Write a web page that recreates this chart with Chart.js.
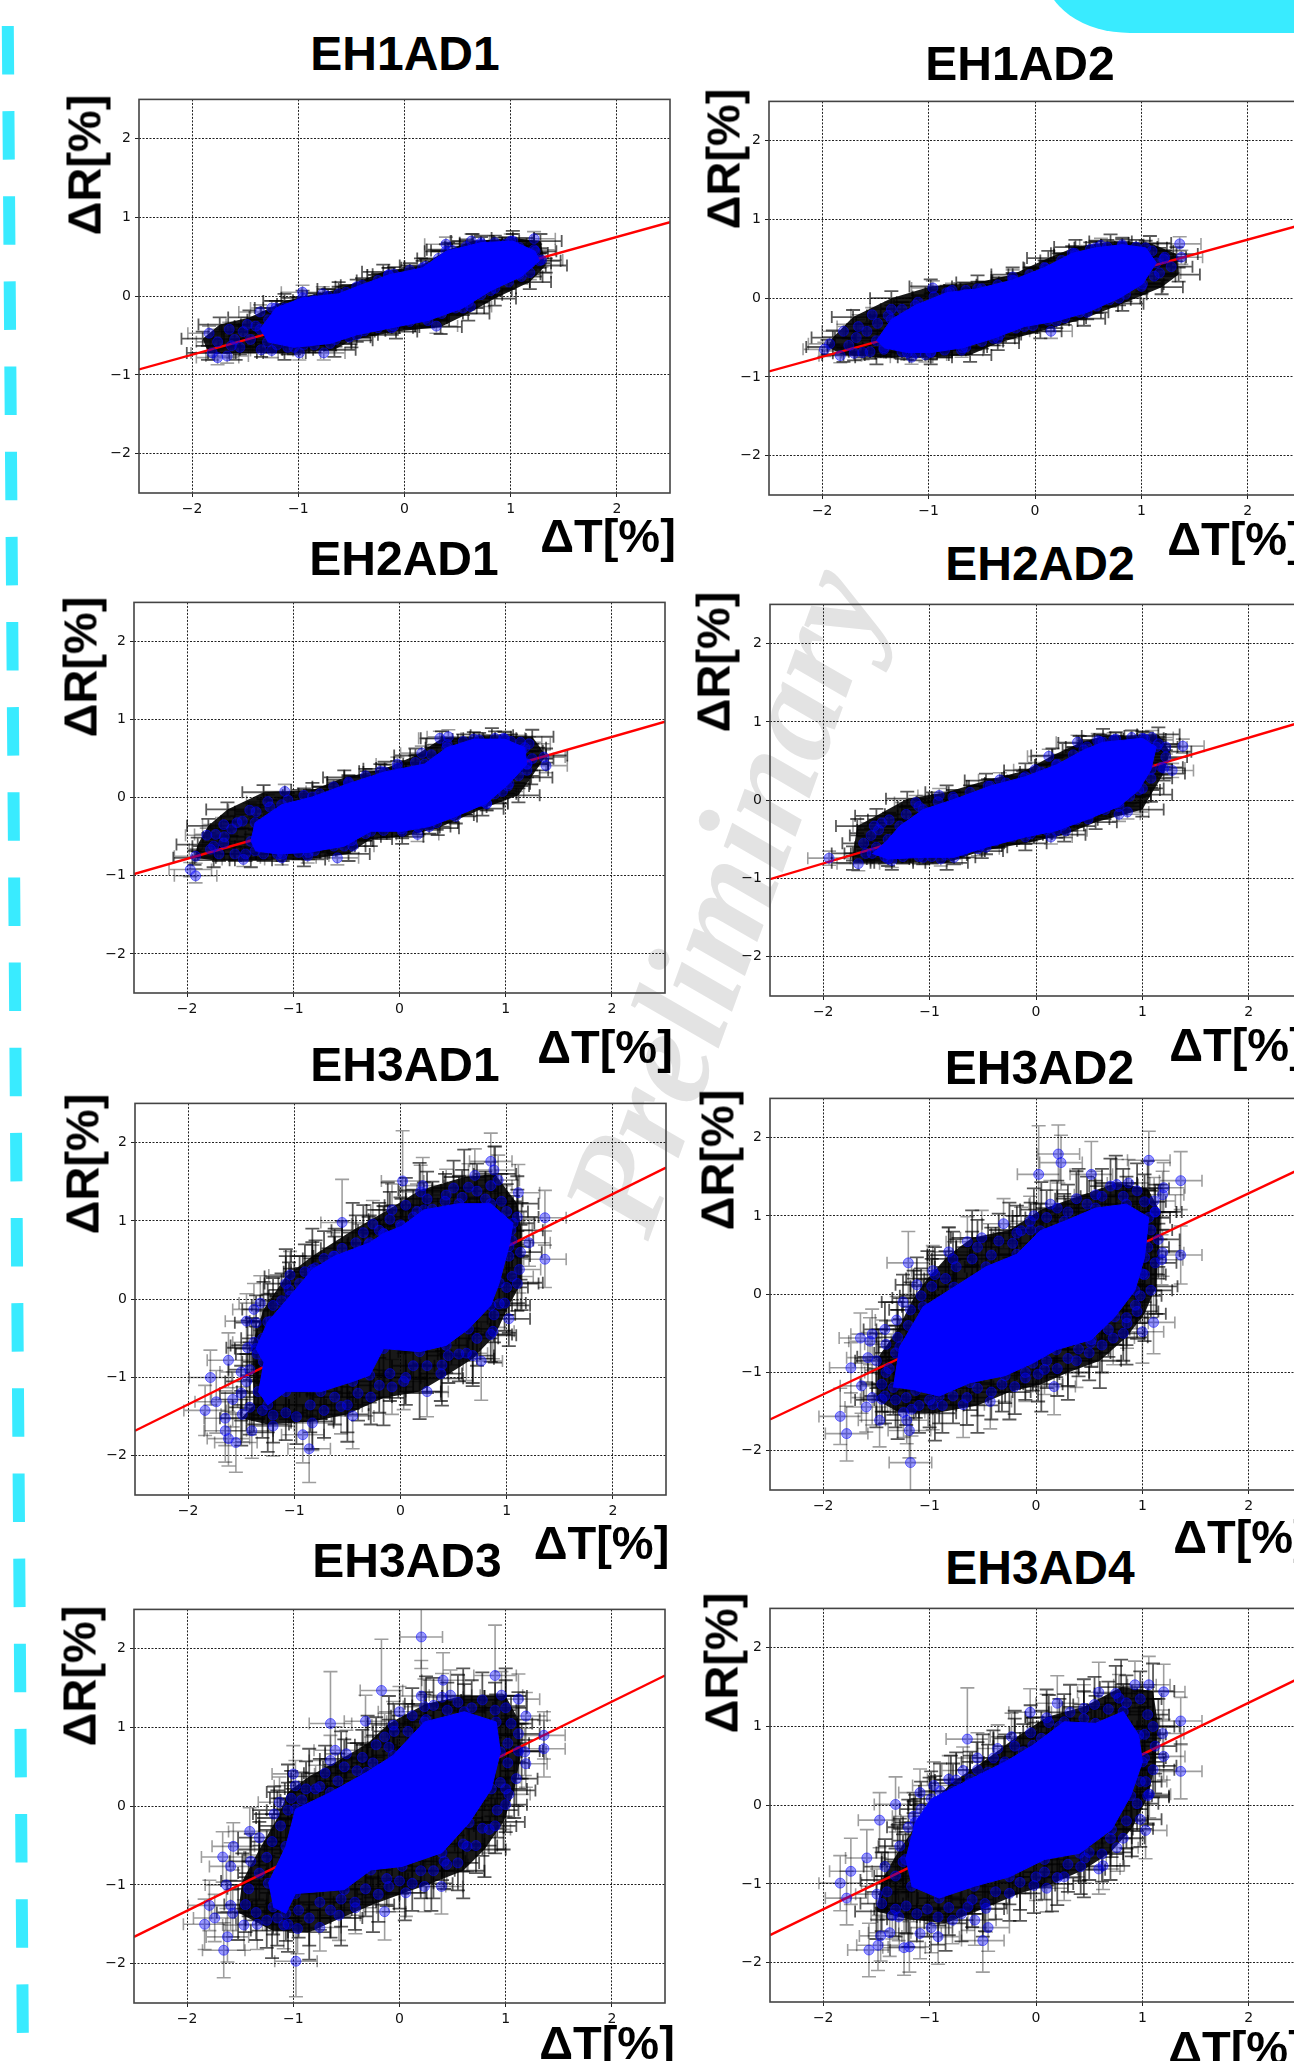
<!DOCTYPE html>
<html>
<head>
<meta charset="utf-8">
<title>EH AD delta R vs delta T</title>
<script src="https://cdn.jsdelivr.net/npm/chart.js@4/dist/chart.umd.min.js"></script>
<style>
html, body { margin: 0; padding: 0; background: #fff; }
#page { position: relative; width: 1294px; height: 2061px; overflow: hidden; }
#stripe { position: absolute; left: 0; top: 0; }
#corner { position: absolute; left: 1045px; top: -40px; width: 300px; height: 72.5px; background: #39ebff; border-bottom-left-radius: 85px 60px; }
#mark { position: absolute; left: 722px; top: 900px; transform: translate(-50%, -50%) rotate(-70deg); font: italic bold 140px "Liberation Serif", serif; color: #e3e3e3; white-space: nowrap; }
canvas { position: absolute; }
.lbl { position: absolute; font: bold 47px/1 "Liberation Sans", sans-serif; color: #000; white-space: nowrap; transform: translate(-50%, -50%); }
.ttl { font-size: 48px; margin-top: 1px; }
.rot { transform: translate(-50%, -50%) rotate(-90deg); }
</style>
</head>
<body>
<div id="page">
  <svg id="stripe" width="40" height="2061"><line x1="7.6" y1="0" x2="23" y2="2061" stroke="#39ebff" stroke-width="12" stroke-dasharray="48.5 36.65" stroke-dashoffset="59.2"/></svg>
  <div id="corner"></div>
  <div id="mark">Preliminary</div>
</div>
<script>
var tickValues = [-2, -1, 0, 1, 2];
var fitX = [-2.5, 2.5];

/* EH1AD1 */
var eh1ad1Fit = [-0.93, 0.94];
var eh1ad1CoreX = [-1.36,-1.21,-0.96,-0.62,-0.45,-0.15,0.17,0.39,0.72,1.02,1.23,1.27,1.1,0.81,0.55,0.22,-0.12,-0.45,-0.7,-1.04,-1.29];
var eh1ad1CoreY = [-0.42,-0.15,-0.02,0.03,0.12,0.27,0.36,0.57,0.68,0.7,0.57,0.45,0.25,0.07,-0.15,-0.31,-0.4,-0.49,-0.6,-0.65,-0.58];
var eh1ad1EnvX = [-1.9,-1.74,-1.46,-1.13,-0.62,-0.2,0.155,0.41,0.64,1.02,1.28,1.33,1.18,0.85,0.6,0.34,-0.08,-0.5,-0.66,-1.13,-1.59,-1.85];
var eh1ad1EnvY = [-0.54,-0.36,-0.27,-0.06,0.09,0.31,0.39,0.59,0.7,0.74,0.7,0.39,0.18,-0.03,-0.22,-0.39,-0.45,-0.56,-0.68,-0.72,-0.72,-0.72];
var eh1ad1PtX = [0.39,0.63,1.0,1.22,1.22,1.29,1.18,0.62,0.3,-0.15,-0.96,-0.77,-1.25,-1.36,-1.65,-1.84,-1.76,-1.81,-1.76,-1.67,-1.63,-1.25,-0.99,-0.76,-1.48,-1.13];
var eh1ad1PtY = [0.66,0.7,0.7,0.73,0.59,0.46,0.3,-0.13,-0.38,0.27,0.05,0.03,-0.15,-0.2,-0.42,-0.47,-0.58,-0.72,-0.78,-0.76,-0.63,-0.69,-0.72,-0.72,-0.36,-0.15];
var eh1ad1Hatch = [[-1.6,-0.55],[-1.52,-0.45],[-1.55,-0.65],[-1.45,-0.55],[-1.4,-0.38],[-1.35,-0.68],[-1.28,-0.3],[-1.2,-0.62],[-1.15,-0.2],[-1.1,-0.65],[-1.0,-0.1],[-0.95,-0.62],[-0.85,-0.05],[-0.85,-0.62],[-0.72,0],[-0.65,-0.55],[-0.55,0.05],[-0.52,-0.52],[-0.4,0.14],[-0.38,-0.44],[-0.25,0.2],[-0.25,-0.4],[-0.1,0.28],[-0.1,-0.38],[0.05,0.33],[0.05,-0.32],[0.2,0.38],[0.2,-0.28],[0.32,0.48],[0.35,-0.22],[0.45,0.58],[0.48,-0.15],[0.58,0.63],[0.6,-0.08],[0.72,0.66],[0.72,0.02],[0.85,0.68],[0.85,0.1],[0.95,0.66],[0.98,0.18],[1.08,0.62],[1.08,0.28],[1.15,0.55],[1.18,0.42]];

/* EH1AD2 */
var eh1ad2Fit = [-0.93, 0.93];
var eh1ad2CoreX = [-1.49,-1.35,-1.125,-0.83,-0.54,-0.21,0.09,0.35,0.57,0.82,1.04,1.14,1.01,0.79,0.49,0.2,-0.1,-0.39,-0.68,-0.98,-1.2,-1.42];
var eh1ad2CoreY = [-0.54,-0.27,-0.09,0.07,0.12,0.23,0.39,0.57,0.64,0.68,0.64,0.45,0.18,0,-0.18,-0.29,-0.36,-0.51,-0.63,-0.69,-0.69,-0.63];
var eh1ad2EnvX = [-1.95,-1.9,-1.71,-1.35,-0.98,-0.54,-0.21,0.125,0.38,0.71,1.08,1.33,1.35,1.19,0.82,0.46,0.05,-0.35,-0.61,-0.98,-1.49,-1.8];
var eh1ad2EnvY = [-0.62,-0.5,-0.24,0,0.15,0.2,0.3,0.51,0.65,0.72,0.7,0.56,0.3,0.14,-0.07,-0.26,-0.42,-0.57,-0.72,-0.75,-0.75,-0.72];
var eh1ad2PtX = [-0.96,-0.78,-1.53,-1.35,-1.66,-1.8,-1.93,-1.98,-1.83,-1.62,-1.16,-1.03,-0.69,-0.35,0.15,0.62,0.375,1.36,1.375,1.21,1.17,-0.21,-0.65];
var eh1ad2PtY = [0.13,0.1,-0.21,-0.14,-0.36,-0.42,-0.58,-0.65,-0.73,-0.69,-0.75,-0.72,-0.66,-0.51,-0.42,0.67,0.57,0.69,0.52,0.5,0.32,0.27,0.05];
var eh1ad2Hatch = [[-1.75,-0.6],[-1.68,-0.5],[-1.7,-0.7],[-1.58,-0.42],[-1.55,-0.68],[-1.48,-0.32],[-1.42,-0.65],[-1.38,-0.22],[-1.25,-0.68],[-1.25,-0.14],[-1.12,-0.7],[-1.1,-0.05],[-0.98,-0.68],[-0.95,0.02],[-0.85,-0.66],[-0.8,0.08],[-0.65,0.1],[-0.65,-0.62],[-0.5,0.12],[-0.5,-0.55],[-0.35,0.17],[-0.33,-0.46],[-0.2,0.22],[-0.18,-0.38],[-0.05,0.3],[-0.02,-0.35],[0.1,0.38],[0.12,-0.28],[0.25,0.48],[0.28,-0.25],[0.38,0.55],[0.42,-0.18],[0.52,0.62],[0.58,-0.1],[0.68,0.65],[0.7,-0.02],[0.82,0.66],[0.85,0.05],[0.95,0.65],[1.0,0.15],[1.1,0.6],[1.12,0.28],[1.22,0.52],[1.28,0.4]];

/* EH2AD1 */
var eh2ad1Fit = [-0.977, 0.973];
var eh2ad1CoreX = [-1.4,-1.36,-1.11,-0.82,-0.48,-0.14,0.235,0.445,0.7,0.99,1.18,1.2,1.03,0.82,0.53,0.28,0.025,-0.27,-0.52,-0.86,-1.15,-1.36];
var eh2ad1CoreY = [-0.56,-0.32,-0.09,0.01,0.18,0.33,0.43,0.64,0.75,0.75,0.64,0.43,0.18,-0.07,-0.24,-0.37,-0.43,-0.43,-0.62,-0.7,-0.72,-0.68];
var eh2ad1EnvX = [-1.93,-1.9,-1.8,-1.62,-1.28,-0.82,-0.52,-0.14,0.15,0.4,0.87,1.25,1.38,1.24,1.12,0.78,0.36,0.025,-0.27,-0.48,-0.9,-1.4,-1.75];
var eh2ad1EnvY = [-0.77,-0.6,-0.36,-0.15,0.07,0.1,0.26,0.37,0.54,0.76,0.8,0.78,0.54,0.26,0.03,-0.14,-0.39,-0.5,-0.53,-0.72,-0.79,-0.8,-0.8];
var eh2ad1PtX = [-1.08,-1.24,-1.41,-1.655,-1.815,-1.73,-1.53,-1.92,-1.97,-1.92,-1.78,-1.655,-1.47,-1.11,-0.865,-0.585,-0.44,0.17,0.82,0.97,-0.02,0.21,0.38,0.46,0.98,1.14,1.22,1.38,1.36,1.2];
var eh2ad1PtY = [0.08,-0.05,-0.16,-0.345,-0.48,-0.47,-0.32,-0.75,-0.92,-1.0,-0.66,-0.58,-0.79,-0.77,-0.745,-0.77,-0.62,-0.47,-0.08,0.08,0.43,0.57,0.76,0.78,0.76,0.71,0.69,0.41,0.52,0.43];
var eh2ad1Hatch = [[-1.75,-0.62],[-1.65,-0.5],[-1.7,-0.72],[-1.58,-0.4],[-1.55,-0.72],[-1.48,-0.3],[-1.45,-0.72],[-1.35,-0.18],[-1.28,-0.72],[-1.22,-0.12],[-1.1,-0.72],[-1.05,-0.03],[-0.95,-0.7],[-0.9,0.03],[-0.8,-0.68],[-0.75,0.05],[-0.62,0.14],[-0.62,-0.62],[-0.48,0.2],[-0.45,-0.55],[-0.32,0.28],[-0.32,-0.46],[-0.18,0.34],[-0.15,-0.42],[-0.02,0.38],[0.02,-0.4],[0.15,0.45],[0.18,-0.38],[0.3,0.55],[0.35,-0.32],[0.45,0.68],[0.5,-0.22],[0.6,0.72],[0.62,-0.12],[0.75,0.74],[0.78,-0.05],[0.9,0.76],[0.9,0.05],[1.05,0.72],[1.02,0.15],[1.15,0.6],[1.12,0.28],[1.25,0.5],[1.2,0.35]];

/* EH2AD2 */
var eh2ad2Fit = [-1.008, 1.0];
var eh2ad2CoreX = [-1.39,-1.28,-1.06,-0.77,-0.43,-0.1,0.19,0.45,0.63,1.0,1.13,1.08,0.965,0.78,0.49,0.19,-0.1,-0.47,-0.77,-1.06,-1.39,-1.54];
var eh2ad2CoreY = [-0.5,-0.33,-0.12,0.01,0.18,0.3,0.45,0.64,0.74,0.79,0.68,0.39,0.13,-0.08,-0.24,-0.39,-0.47,-0.6,-0.73,-0.73,-0.75,-0.68];
var eh2ad2EnvX = [-1.72,-1.68,-1.5,-1.21,-0.84,-0.47,-0.1,0.155,0.41,0.63,1.15,1.26,1.2,1.08,1.0,0.56,0.265,-0.1,-0.51,-0.84,-1.355,-1.72];
var eh2ad2EnvY = [-0.68,-0.33,-0.2,0.02,0.1,0.25,0.38,0.57,0.73,0.82,0.84,0.62,0.34,0.07,-0.12,-0.28,-0.44,-0.55,-0.65,-0.8,-0.8,-0.8];
var eh2ad2PtX = [-1.945,-1.67,-1.45,-1.52,-1.13,-0.91,-0.34,-0.01,0.12,0.39,0.58,0.73,1.09,1.22,1.38,1.28,1.2,0.78,0.86,0.28,0.14,-0.545,-0.895,-1.355];
var eh2ad2PtY = [-0.74,-0.81,-0.29,-0.33,-0.03,0.06,0.26,0.39,0.56,0.74,0.76,0.77,0.8,0.68,0.69,0.38,0.41,-0.18,-0.15,-0.39,-0.47,-0.62,-0.75,-0.77];
var eh2ad2Hatch = [[-1.6,-0.68],[-1.55,-0.45],[-1.62,-0.55],[-1.5,-0.6],[-1.48,-0.38],[-1.42,-0.72],[-1.38,-0.25],[-1.25,-0.72],[-1.22,-0.18],[-1.1,-0.72],[-1.1,-0.08],[-0.98,-0.72],[-0.92,-0.02],[-0.85,-0.7],[-0.78,0.04],[-0.68,-0.65],[-0.62,0.1],[-0.52,-0.58],[-0.45,0.18],[-0.38,-0.52],[-0.28,0.22],[-0.22,-0.47],[-0.12,0.28],[-0.05,-0.43],[0.05,0.36],[0.1,-0.38],[0.2,0.46],[0.25,-0.32],[0.35,0.58],[0.38,-0.25],[0.48,0.68],[0.5,-0.18],[0.6,0.75],[0.65,-0.12],[0.75,0.78],[0.78,-0.03],[0.9,0.8],[0.88,0.05],[1.02,0.78],[1.0,0.15],[1.15,0.72],[1.08,0.28],[1.22,0.55],[1.18,0.42]];

/* EH3AD1 */
var eh3ad1Fit = [-1.68, 1.68];
var eh3ad1CoreX = [-1.29,-1.36,-1.25,-1.04,-0.83,-0.62,-0.29,-0.16,0.01,0.22,0.55,0.85,1.06,1.02,0.93,0.85,0.64,0.43,0.18,-0.16,-0.29,-0.45,-0.75,-1.08,-1.25,-1.34];
var eh3ad1CoreY = [-0.8,-0.63,-0.29,0.04,0.38,0.55,0.72,0.84,0.93,1.14,1.22,1.22,0.97,0.67,0.21,-0.08,-0.38,-0.59,-0.67,-0.63,-0.97,-1.05,-1.18,-1.18,-1.35,-1.18];
var eh3ad1EnvX = [-1.38,-1.4,-1.29,-1.08,-0.83,-0.45,-0.12,0.18,0.6,0.89,1.1,1.14,1.14,1.02,0.89,0.68,0.39,0.18,-0.16,-0.5,-0.83,-1.25,-1.5];
var eh3ad1EnvY = [-1.35,-0.59,-0.13,0.29,0.55,0.88,1.14,1.39,1.56,1.6,1.22,0.88,0.21,-0.08,-0.46,-0.76,-1.01,-1.18,-1.26,-1.47,-1.56,-1.6,-1.52];
var eh3ad1PtX = [0.02,0.21,0.19,0.85,0.88,0.7,0.92,0.85,1.11,1.36,1.36,1.21,1.12,1.04,1.05,0.93,0.87,0.76,0.62,0.39,0.25,0.03,-0.08,-0.45,-0.56,-0.83,-0.92,-0.86,-1.2,-1.4,-1.55,-1.62,-1.65,-1.65,-1.49,-1.84,-1.735,-1.58,-1.79,-1.62,-1.5,-1.38,-1.45,-1.38,-1.32,-1.04,-0.83,-0.63,-0.55,-0.26,-0.15,-0.08,0.155,0.43,0.64];
var eh3ad1PtY = [1.51,1.45,1.37,1.76,1.65,1.58,1.52,1.45,1.36,1.04,0.51,0.72,0.38,0.88,0.29,-0.06,-0.41,-0.79,-0.69,-0.84,-1.18,-1.05,-1.12,-1.49,-1.37,-1.58,-1.73,-1.91,-1.62,-1.68,-1.83,-1.78,-1.68,-1.52,-1.47,-1.42,-1.31,-1.28,-1.0,-0.78,-0.93,-0.55,-0.28,-0.13,-0.05,0.31,0.34,0.55,0.98,0.96,0.83,1.14,1.12,1.33,1.43];
var eh3ad1PtEy = [0.64,0.36,0.34,0.36,0.3,0.34,0.32,0.3,0.36,0.35,0.36,0.3,0.3,0.3,0.3,0.3,0.35,0.5,0.35,0.35,0.32,0.36,0.35,0.42,0.35,0.35,0.36,0.43,0.38,0.35,0.38,0.35,0.4,0.35,0.35,0.32,0.4,0.35,0.35,0.35,0.35,0.3,0.35,0.33,0.35,0.3,0.35,0.3,0.55,0.3,0.35,0.33,0.35,0.33,0.3];
var eh3ad1Hatch = [[-1.42,-0.9],[-1.35,-0.7],[-1.44,-0.62],[-1.3,-0.5],[-1.36,-0.3],[-1.22,-0.28],[-1.2,-0.08],[-1.12,-0.02],[-1.05,0.12],[-1.08,0.2],[-0.95,0.2],[-0.9,0.35],[-0.8,0.4],[-0.72,0.52],[-0.62,0.45],[-0.55,0.65],[-0.42,0.72],[-0.35,0.85],[-0.3,0.7],[-0.2,0.88],[-0.1,1.02],[0,0.95],[0.05,1.2],[0.12,1.05],[0.25,1.28],[0.3,1.15],[0.42,1.25],[0.5,1.42],[0.58,1.3],[0.72,1.38],[0.8,1.28],[0.95,1.25],[1.0,1.12],[1.1,1.05],[1.05,0.75],[1.13,0.6],[1.02,0.55],[1.1,0.2],[1.0,0.15],[0.98,-0.05],[1.02,-0.25],[0.88,-0.2],[0.85,-0.45],[0.72,-0.5],[0.68,-0.72],[0.55,-0.7],[0.45,-0.72],[0.38,-0.95],[0.25,-0.85],[0.12,-0.85],[0.05,-1.0],[-0.1,-0.95],[-0.2,-1.1],[-0.28,-1.25],[-0.4,-1.2],[-0.5,-1.35],[-0.62,-1.25],[-0.72,-1.42],[-0.85,-1.35],[-0.98,-1.5],[-1.08,-1.45],[-1.2,-1.48],[-1.3,-1.42],[-1.42,-1.38],[-1.5,-1.2],[-1.45,-1.05]];

/* EH3AD2 */
var eh3ad2Fit = [-1.6, 1.61];
var eh3ad2CoreX = [-1.34,-1.28,-1.06,-0.77,-0.47,-0.18,0.04,0.265,0.56,0.85,1.06,1.02,0.93,0.74,0.52,0.19,-0.03,-0.29,-0.62,-0.91,-1.13];
var eh3ad2CoreY = [-1.19,-0.67,-0.16,0.09,0.35,0.51,0.81,0.93,1.1,1.15,0.98,0.47,0.05,-0.29,-0.58,-0.71,-0.88,-1.04,-1.13,-1.3,-1.23];
var eh3ad2EnvX = [-1.5,-1.48,-1.3,-1.15,-1.02,-0.82,-0.6,-0.25,0.05,0.4,0.75,1.05,1.17,1.15,1.13,1.02,0.85,0.6,0.3,0.05,-0.25,-0.55,-0.95,-1.3];
var eh3ad2EnvY = [-1.35,-0.8,-0.45,-0.05,0.2,0.5,0.72,0.82,1.08,1.25,1.42,1.35,1.05,0.55,0.1,-0.25,-0.55,-0.85,-1.0,-1.15,-1.25,-1.42,-1.52,-1.5];
var eh3ad2PtX = [0.21,0.235,0.025,0.52,0.76,0.87,1.06,1.2,1.19,1.36,1.11,1.12,1.36,1.18,1.19,1.0,0.935,1.105,1.0,0.855,0.725,0.515,0.38,0.08,0.17,-0.1,-0.43,-0.685,-0.97,-1.17,-1.245,-1.215,-1.19,-1.18,-1.47,-1.595,-1.84,-1.78,-1.54,-1.45,-1.64,-1.74,-1.41,-1.58,-1.41,-1.56,-1.65,-1.54,-1.31,-1.2,-0.97,-0.82,-0.645,-0.51,-0.305,-0.14,-0.055,0.135,0.56];
var eh3ad2PtY = [1.79,1.68,1.53,1.53,1.4,1.42,1.71,1.36,1.27,1.45,1.19,1.05,0.5,0.44,0.53,0.26,-0.14,-0.36,-0.48,-0.37,-0.56,-0.62,-0.85,-0.96,-1.18,-1.07,-1.37,-1.41,-1.41,-1.47,-1.51,-1.61,-1.74,-2.15,-1.61,-1.44,-1.56,-1.78,-1.32,-1.34,-1.17,-0.94,-1.0,-0.81,-0.64,-0.6,-0.56,-0.51,-0.33,0.4,0.3,0.54,0.67,0.72,0.9,0.81,0.93,1.15,1.27];
var eh3ad2PtEy = [0.37,0.35,0.62,0.42,0.32,0.3,0.37,0.32,0.3,0.37,0.3,0.3,0.37,0.32,0.3,0.32,0.3,0.4,0.4,0.32,0.34,0.3,0.34,0.32,0.36,0.3,0.35,0.42,0.32,0.34,0.32,0.3,0.35,0.55,0.34,0.32,0.36,0.35,0.35,0.32,0.35,0.32,0.32,0.32,0.3,0.3,0.32,0.32,0.3,0.4,0.32,0.32,0.32,0.35,0.32,0.3,0.32,0.3,0.3];
var eh3ad2Hatch = [[-1.45,-1.15],[-1.38,-0.95],[-1.5,-0.85],[-1.32,-0.75],[-1.3,-0.55],[-1.42,-0.45],[-1.2,-0.4],[-1.18,-0.2],[-1.25,-0.1],[-1.08,-0.02],[-1.12,0.12],[-0.98,0.1],[-0.95,0.25],[-0.85,0.2],[-0.75,0.35],[-0.78,0.45],[-0.6,0.45],[-0.55,0.6],[-0.42,0.5],[-0.35,0.68],[-0.22,0.65],[-0.18,0.78],[-0.05,0.82],[-0.02,1.0],[0.1,0.98],[0.2,1.1],[0.3,1.05],[0.38,1.22],[0.48,1.15],[0.62,1.25],[0.7,1.38],[0.82,1.25],[0.95,1.32],[1.02,1.18],[1.12,1.05],[1.08,0.82],[1.15,0.7],[1.05,0.6],[1.12,0.4],[1.02,0.25],[1.08,0.05],[0.98,-0.02],[0.95,-0.22],[0.85,-0.3],[0.82,-0.5],[0.68,-0.45],[0.62,-0.65],[0.5,-0.75],[0.4,-0.7],[0.3,-0.82],[0.2,-0.95],[0.1,-0.85],[0.02,-1.02],[-0.1,-1.0],[-0.2,-1.18],[-0.32,-1.15],[-0.42,-1.25],[-0.55,-1.2],[-0.65,-1.32],[-0.78,-1.3],[-0.88,-1.42],[-1.0,-1.35],[-1.1,-1.42],[-1.22,-1.32],[-1.32,-1.35],[-1.42,-1.3]];

/* EH3AD3 */
var eh3ad3Fit = [-1.66, 1.66];
var eh3ad3CoreX = [-1.235,-1.07,-0.98,-0.65,-0.31,-0.06,0.235,0.61,0.91,0.95,0.865,0.655,0.4,0.025,-0.27,-0.52,-0.98,-1.07,-1.19];
var eh3ad3CoreY = [-0.98,-0.51,-0.04,0.175,0.43,0.645,1.07,1.2,1.07,0.69,0.22,-0.21,-0.59,-0.765,-0.81,-1.06,-1.11,-1.36,-1.28];
var eh3ad3EnvX = [-1.52,-1.48,-1.32,-1.15,-1.05,-0.85,-0.55,-0.3,-0.1,0.25,0.6,1.0,1.12,1.15,1.08,0.98,0.8,0.6,0.3,0.05,-0.25,-0.55,-0.85,-1.2];
var eh3ad3EnvY = [-1.35,-0.95,-0.55,-0.15,0.18,0.38,0.6,0.8,1.05,1.3,1.4,1.4,1.1,0.7,0.2,-0.2,-0.55,-0.82,-0.98,-1.1,-1.25,-1.42,-1.6,-1.58];
var eh3ad3PtX = [0.205,0.41,0.9,-0.17,0.205,0.48,0.4,0.96,1.12,0.235,0,-0.32,-0.65,-0.06,1.19,1.36,1.36,1.18,1.19,1.03,0.95,0.845,0.635,0.445,0.395,0.235,0.06,-0.1,-0.14,-0.415,-0.57,-0.75,-0.975,-0.96,-1.09,-1.34,-1.465,-1.62,-1.655,-1.835,-1.74,-1.79,-1.59,-1.57,-1.63,-1.665,-1.565,-1.59,-1.41,-1.13,-1.0,-0.98,-0.79,-0.65,-0.605,-0.5,-0.14];
var eh3ad3PtY = [2.15,1.6,1.66,1.47,1.4,1.41,1.385,1.41,1.36,1.265,1.2,1.08,1.05,1.03,1.145,0.9,0.73,0.69,0.54,0.15,0.3,-0.295,-0.51,-0.74,-1.02,-1.02,-1.1,-1.02,-1.34,-1.29,-1.385,-1.54,-1.97,-1.555,-1.51,-1.5,-1.51,-1.66,-1.83,-1.5,-1.42,-1.26,-1.26,-1.36,-1.0,-0.645,-0.51,-0.765,-0.32,0.05,0.41,0.26,0.22,0.58,0.71,0.665,0.88];
var eh3ad3PtEy = [0.4,0.35,0.64,0.65,0.45,0.32,0.3,0.3,0.32,0.35,0.32,0.33,0.66,0.3,0.3,0.3,0.36,0.3,0.3,0.3,0.3,0.3,0.32,0.32,0.35,0.32,0.3,0.32,0.36,0.33,0.32,0.3,0.45,0.32,0.3,0.32,0.32,0.32,0.35,0.32,0.3,0.32,0.32,0.3,0.3,0.32,0.3,0.3,0.3,0.32,0.36,0.32,0.3,0.32,0.3,0.3,0.3];
var eh3ad3Hatch = [[-1.42,-1.05],[-1.32,-0.85],[-1.4,-0.7],[-1.25,-0.65],[-1.2,-0.45],[-1.32,-0.4],[-1.12,-0.25],[-1.18,-0.1],[-1.05,-0.05],[-1.02,0.1],[-0.92,0.08],[-0.88,0.22],[-0.75,0.25],[-0.7,0.42],[-0.58,0.32],[-0.52,0.5],[-0.4,0.45],[-0.35,0.62],[-0.25,0.55],[-0.22,0.78],[-0.1,0.75],[-0.05,0.95],[0.08,0.95],[0.12,1.15],[0.25,1.1],[0.32,1.28],[0.45,1.22],[0.55,1.32],[0.68,1.25],[0.78,1.35],[0.9,1.22],[1.0,1.25],[1.05,1.05],[1.12,0.92],[1.02,0.8],[1.12,0.7],[1.02,0.55],[1.1,0.35],[1.0,0.22],[1.0,0.02],[0.92,-0.05],[0.9,-0.25],[0.78,-0.28],[0.72,-0.5],[0.6,-0.48],[0.55,-0.72],[0.42,-0.7],[0.32,-0.82],[0.2,-0.82],[0.12,-0.98],[0,-0.95],[-0.12,-0.92],[-0.2,-1.12],[-0.32,-1.05],[-0.42,-1.22],[-0.55,-1.18],[-0.65,-1.32],[-0.75,-1.22],[-0.85,-1.42],[-0.95,-1.32],[-1.05,-1.5],[-1.15,-1.42],[-1.25,-1.45],[-1.35,-1.35],[-1.45,-1.25]];

/* EH3AD4 */
var eh3ad4Fit = [-1.65, 1.63];
var eh3ad4CoreX = [-1.225,-1.135,-0.985,-0.62,-0.29,-0.03,0.265,0.56,0.82,0.965,1.0,0.89,0.71,0.41,0.08,-0.25,-0.58,-0.91,-1.17];
var eh3ad4CoreY = [-0.69,-0.22,0.08,0.33,0.55,0.76,1.06,1.04,1.19,0.89,0.55,0.12,-0.31,-0.61,-0.69,-0.91,-1.03,-1.18,-1.03];
var eh3ad4EnvX = [-1.5,-1.45,-1.3,-1.15,-1.0,-0.8,-0.5,-0.2,0.1,0.45,0.8,1.1,1.15,1.12,1.05,0.9,0.7,0.45,0.15,-0.15,-0.5,-0.85,-1.2];
var eh3ad4EnvY = [-1.35,-0.95,-0.6,-0.3,0,0.28,0.55,0.85,1.12,1.25,1.5,1.45,1.0,0.5,0.1,-0.3,-0.6,-0.82,-1.0,-1.12,-1.32,-1.5,-1.45];
var eh3ad4PtX = [-0.645,-1.32,-1.47,-1.59,-1.74,-1.84,-1.78,-1.495,-1.57,-1.485,-1.46,-1.375,-1.24,-1.19,-1.35,-1.29,-1.09,-0.92,-0.985,-0.785,-0.575,-0.5,-0.45,-0.47,-0.64,0.1,0,0.265,0.46,0.59,0.63,0.76,1.03,1.065,1.03,1.36,1.2,1.36,1.2,1.19,1.06,0.93,0.59,0.78,0.2,-0.055,0.45,0.1,-0.23,-0.36,-0.55,-0.685,-0.82,-0.96,-1.09,-1.15];
var eh3ad4PtY = [0.84,0.01,-0.19,-0.67,-0.84,-0.99,-1.18,-1.13,-1.84,-1.78,-1.66,-1.62,-1.81,-1.8,-1.4,-1.42,-1.63,-1.67,-1.555,-1.46,-1.46,-1.72,-1.555,-1.31,-1.29,-1.055,-0.91,-0.91,-0.67,-0.81,-0.77,-0.54,-0.32,0.14,0.3,0.43,0.62,1.07,1.44,0.91,1.53,1.53,1.435,1.36,1.295,1.18,1.23,1.11,0.87,0.72,0.6,0.44,0.33,0.25,0.16,-0.14];
var eh3ad4PtEy = [0.65,0.35,0.35,0.36,0.42,0.35,0.34,0.32,0.34,0.32,0.32,0.3,0.35,0.32,0.3,0.3,0.32,0.35,0.32,0.3,0.32,0.4,0.3,0.3,0.3,0.3,0.3,0.3,0.32,0.32,0.3,0.3,0.36,0.3,0.3,0.35,0.3,0.3,0.35,0.3,0.36,0.3,0.38,0.3,0.35,0.3,0.3,0.3,0.3,0.3,0.32,0.3,0.3,0.3,0.3,0.3];
var eh3ad4Hatch = [[-1.4,-1.1],[-1.32,-0.9],[-1.42,-0.78],[-1.25,-0.72],[-1.28,-0.52],[-1.15,-0.45],[-1.2,-0.28],[-1.05,-0.22],[-1.08,-0.05],[-0.95,0.02],[-0.9,0.18],[-0.78,0.18],[-0.75,0.32],[-0.62,0.28],[-0.55,0.45],[-0.45,0.42],[-0.4,0.6],[-0.3,0.52],[-0.2,0.75],[-0.12,0.68],[-0.05,0.92],[0.05,0.85],[0.12,1.05],[0.22,1.0],[0.32,1.18],[0.45,1.1],[0.55,1.28],[0.68,1.22],[0.75,1.42],[0.85,1.3],[0.98,1.35],[1.05,1.15],[1.1,1.0],[1.02,0.9],[1.12,0.75],[1.02,0.6],[1.1,0.45],[0.98,0.3],[1.05,0.12],[0.95,0.02],[0.98,-0.18],[0.85,-0.2],[0.82,-0.42],[0.7,-0.42],[0.62,-0.62],[0.5,-0.6],[0.42,-0.78],[0.3,-0.75],[0.2,-0.92],[0.08,-0.85],[-0.02,-1.02],[-0.15,-0.98],[-0.25,-1.12],[-0.38,-1.1],[-0.48,-1.25],[-0.6,-1.2],[-0.7,-1.38],[-0.82,-1.3],[-0.92,-1.42],[-1.02,-1.32],[-1.12,-1.38],[-1.22,-1.28],[-1.32,-1.32],[-1.45,-1.25]];

// rect = plot area in page pixels, title / dR / dT = label centres
var panels = [
  { name: "EH1AD1", rect: [139.3, 96.8, 670.5, 492.9], title: [405, 53], dR: [84, 165], dT: [608, 535], fit: eh1ad1Fit, coreX: eh1ad1CoreX, coreY: eh1ad1CoreY, envX: eh1ad1EnvX, envY: eh1ad1EnvY, ptX: eh1ad1PtX, ptY: eh1ad1PtY, ptEy: 0.09, coreEy: 0.09, hatch: eh1ad1Hatch, ex: 0.2 },
  { name: "EH1AD2", rect: [768.6, 98.6, 1301, 494.6], title: [1020, 62.5], dR: [723, 159], dT: [1235, 538], fit: eh1ad2Fit, coreX: eh1ad2CoreX, coreY: eh1ad2CoreY, envX: eh1ad2EnvX, envY: eh1ad2EnvY, ptX: eh1ad2PtX, ptY: eh1ad2PtY, ptEy: 0.09, coreEy: 0.09, hatch: eh1ad2Hatch, ex: 0.2 },
  { name: "EH2AD1", rect: [133.5, 599.7, 664.3, 993], title: [404, 558], dR: [80, 666.5], dT: [605, 1046], fit: eh2ad1Fit, coreX: eh2ad1CoreX, coreY: eh2ad1CoreY, envX: eh2ad1EnvX, envY: eh2ad1EnvY, ptX: eh2ad1PtX, ptY: eh2ad1PtY, ptEy: 0.09, coreEy: 0.09, hatch: eh2ad1Hatch, ex: 0.2 },
  { name: "EH2AD2", rect: [769.7, 602, 1301.5, 996], title: [1040, 562.5], dR: [713, 662], dT: [1237, 1044], fit: eh2ad2Fit, coreX: eh2ad2CoreX, coreY: eh2ad2CoreY, envX: eh2ad2EnvX, envY: eh2ad2EnvY, ptX: eh2ad2PtX, ptY: eh2ad2PtY, ptEy: 0.09, coreEy: 0.09, hatch: eh2ad2Hatch, ex: 0.2 },
  { name: "EH3AD1", rect: [135.3, 1101.3, 666, 1495.3], title: [405, 1064], dR: [81.5, 1164], dT: [601.5, 1542], fit: eh3ad1Fit, coreX: eh3ad1CoreX, coreY: eh3ad1CoreY, envX: eh3ad1EnvX, envY: eh3ad1EnvY, ptX: eh3ad1PtX, ptY: eh3ad1PtY, ptEy: eh3ad1PtEy, coreEy: 0.35, hatch: eh3ad1Hatch, ex: 0.2 },
  { name: "EH3AD2", rect: [769.7, 1095.7, 1301.5, 1489.4], title: [1039.5, 1066.5], dR: [716.7, 1160], dT: [1241, 1536], fit: eh3ad2Fit, coreX: eh3ad2CoreX, coreY: eh3ad2CoreY, envX: eh3ad2EnvX, envY: eh3ad2EnvY, ptX: eh3ad2PtX, ptY: eh3ad2PtY, ptEy: eh3ad2PtEy, coreEy: 0.35, hatch: eh3ad2Hatch, ex: 0.2 },
  { name: "EH3AD3", rect: [133.5, 1606.9, 664.3, 2002.4], title: [407, 1560], dR: [79, 1676], dT: [607, 2042], fit: eh3ad3Fit, coreX: eh3ad3CoreX, coreY: eh3ad3CoreY, envX: eh3ad3EnvX, envY: eh3ad3EnvY, ptX: eh3ad3PtX, ptY: eh3ad3PtY, ptEy: eh3ad3PtEy, coreEy: 0.35, hatch: eh3ad3Hatch, ex: 0.2 },
  { name: "EH3AD4", rect: [769.7, 1605.9, 1301.5, 2001.4], title: [1040, 1567], dR: [721, 1663], dT: [1236, 2047], fit: eh3ad4Fit, coreX: eh3ad4CoreX, coreY: eh3ad4CoreY, envX: eh3ad4EnvX, envY: eh3ad4EnvY, ptX: eh3ad4PtX, ptY: eh3ad4PtY, ptEy: eh3ad4PtEy, coreEy: 0.35, hatch: eh3ad4Hatch, ex: 0.2 }
];

var MARGIN_LEFT = 60, MARGIN_TOP = 10, MARGIN_RIGHT = 10, MARGIN_BOTTOM = 40;

function zipXY(xs, ys) {
    var out = [];
    for (var i = 0; i < xs.length; i++) {
        out.push({ x: xs[i], y: ys[i] });
    }
    return out;
}

function pairsXY(pairs) {
    return pairs.map(function (q) { return { x: q[0], y: q[1] }; });
}

function errorBars(ctx, xScale, yScale, pts, ex, ey) {
    for (var i = 0; i < pts.length; i++) {
        var err = Array.isArray(ey) ? ey[i] : ey;
        var px = xScale.getPixelForValue(pts[i].x);
        var py = yScale.getPixelForValue(pts[i].y);
        var x1 = xScale.getPixelForValue(pts[i].x - ex);
        var x2 = xScale.getPixelForValue(pts[i].x + ex);
        var y1 = yScale.getPixelForValue(pts[i].y + err);
        var y2 = yScale.getPixelForValue(pts[i].y - err);
        ctx.beginPath();
        ctx.moveTo(x1, py); ctx.lineTo(x2, py);
        ctx.moveTo(px, y1); ctx.lineTo(px, y2);
        ctx.moveTo(x1, py - 6); ctx.lineTo(x1, py + 6);
        ctx.moveTo(x2, py - 6); ctx.lineTo(x2, py + 6);
        ctx.moveTo(px - 7, y1); ctx.lineTo(px + 7, y1);
        ctx.moveTo(px - 7, y2); ctx.lineTo(px + 7, y2);
        ctx.stroke();
    }
}

// error bars go between the black envelope and the red fit line
var errorBarPlugin = {
    id: "errorBarPlugin",
    beforeDatasetDraw: function (chart, args) {
        if (chart.data.datasets[args.index].label !== "fit") return;
        var p = chart.options.plugins.errorBarPlugin.panel;
        var a = chart.chartArea, ctx = chart.ctx;
        var sx = chart.scales.x, sy = chart.scales.y;
        ctx.save();
        ctx.beginPath();
        ctx.rect(a.left, a.top, a.right - a.left, a.bottom - a.top);
        ctx.clip();
        ctx.lineWidth = 1.8;
        ctx.strokeStyle = "rgba(0,0,0,0.65)";
        errorBars(ctx, sx, sy, zipXY(p.coreX, p.coreY), p.ex, p.coreEy);
        errorBars(ctx, sx, sy, zipXY(p.envX, p.envY), p.ex, p.coreEy);
        errorBars(ctx, sx, sy, pairsXY(p.hatch), p.ex, p.coreEy);
        ctx.lineWidth = 1.6;
        ctx.strokeStyle = "rgba(0,0,0,0.38)";
        errorBars(ctx, sx, sy, zipXY(p.ptX, p.ptY), p.ex, p.ptEy);
        ctx.restore();
    },
    afterDraw: function (chart) {
        var a = chart.chartArea, ctx = chart.ctx;
        ctx.save();
        ctx.lineWidth = 1.6;
        ctx.strokeStyle = "#444";
        ctx.strokeRect(a.left, a.top, a.right - a.left, a.bottom - a.top);
        ctx.restore();
    }
};

function axisOptions(fitFn) {
    return {
        type: "linear",
        min: -2.5,
        max: 2.5,
        afterBuildTicks: function (axis) {
            axis.ticks = tickValues.map(function (v) { return { value: v }; });
        },
        afterFit: fitFn,
        grid: { color: "#222", lineWidth: 1, tickLength: 4, tickColor: "#222" },
        border: { display: false, dash: [2, 1.5] },
        ticks: {
            color: "#111",
            padding: 4,
            maxRotation: 0,
            font: { family: "DejaVu Sans", size: 14 },
            callback: function (v) { return String(v).replace("-", "\u2212"); }
        }
    };
}

function loadPanel(p) {
    var page = document.getElementById("page");
    var canvas = document.createElement("canvas");
    var w = p.rect[2] - p.rect[0] + MARGIN_LEFT + MARGIN_RIGHT;
    var h = p.rect[3] - p.rect[1] + MARGIN_TOP + MARGIN_BOTTOM;
    canvas.width = Math.round(w);
    canvas.height = Math.round(h);
    canvas.style.left = (p.rect[0] - MARGIN_LEFT) + "px";
    canvas.style.top = (p.rect[1] - MARGIN_TOP) + "px";
    page.appendChild(canvas);

    var markers = zipXY(p.ptX, p.ptY).concat(zipXY(p.coreX, p.coreY), pairsXY(p.hatch));

    new Chart(canvas.getContext("2d"), {
        type: "scatter",
        data: {
            datasets: [
                { label: "points", data: markers, pointRadius: 5, pointBackgroundColor: "rgba(0,0,255,0.4)", pointBorderColor: "rgba(0,0,255,0.5)", pointBorderWidth: 1 },
                { label: "core", data: zipXY(p.coreX, p.coreY), showLine: true, fill: "shape", backgroundColor: "#0000ff", borderColor: "#0000ff", borderWidth: 1, pointRadius: 0 },
                { label: "fit", data: zipXY(fitX, p.fit), showLine: true, borderColor: "#ff0000", borderWidth: 2.4, pointRadius: 0 },
                { label: "envelope", data: zipXY(p.envX, p.envY), showLine: true, fill: "shape", backgroundColor: "rgba(0,0,0,0.9)", borderWidth: 0, pointRadius: 0 }
            ]
        },
        options: {
            responsive: false,
            animation: false,
            devicePixelRatio: 1,
            layout: { padding: { top: MARGIN_TOP, right: MARGIN_RIGHT, left: 0, bottom: 0 } },
            scales: {
                x: axisOptions(function (s) { s.height = MARGIN_BOTTOM; }),
                y: axisOptions(function (s) { s.width = MARGIN_LEFT; })
            },
            plugins: {
                legend: { display: false },
                tooltip: { enabled: false },
                errorBarPlugin: { panel: p }
            }
        },
        plugins: [errorBarPlugin]
    });

    addLabel(p.name, p.title, "lbl ttl");
    addLabel("\u0394R[%]", p.dR, "lbl rot");
    addLabel("\u0394T[%]", p.dT, "lbl");
}

function addLabel(text, pos, cls) {
    var div = document.createElement("div");
    div.className = cls;
    div.textContent = text;
    div.style.left = pos[0] + "px";
    div.style.top = pos[1] + "px";
    document.getElementById("page").appendChild(div);
}

panels.forEach(loadPanel);
</script>
</body>
</html>
